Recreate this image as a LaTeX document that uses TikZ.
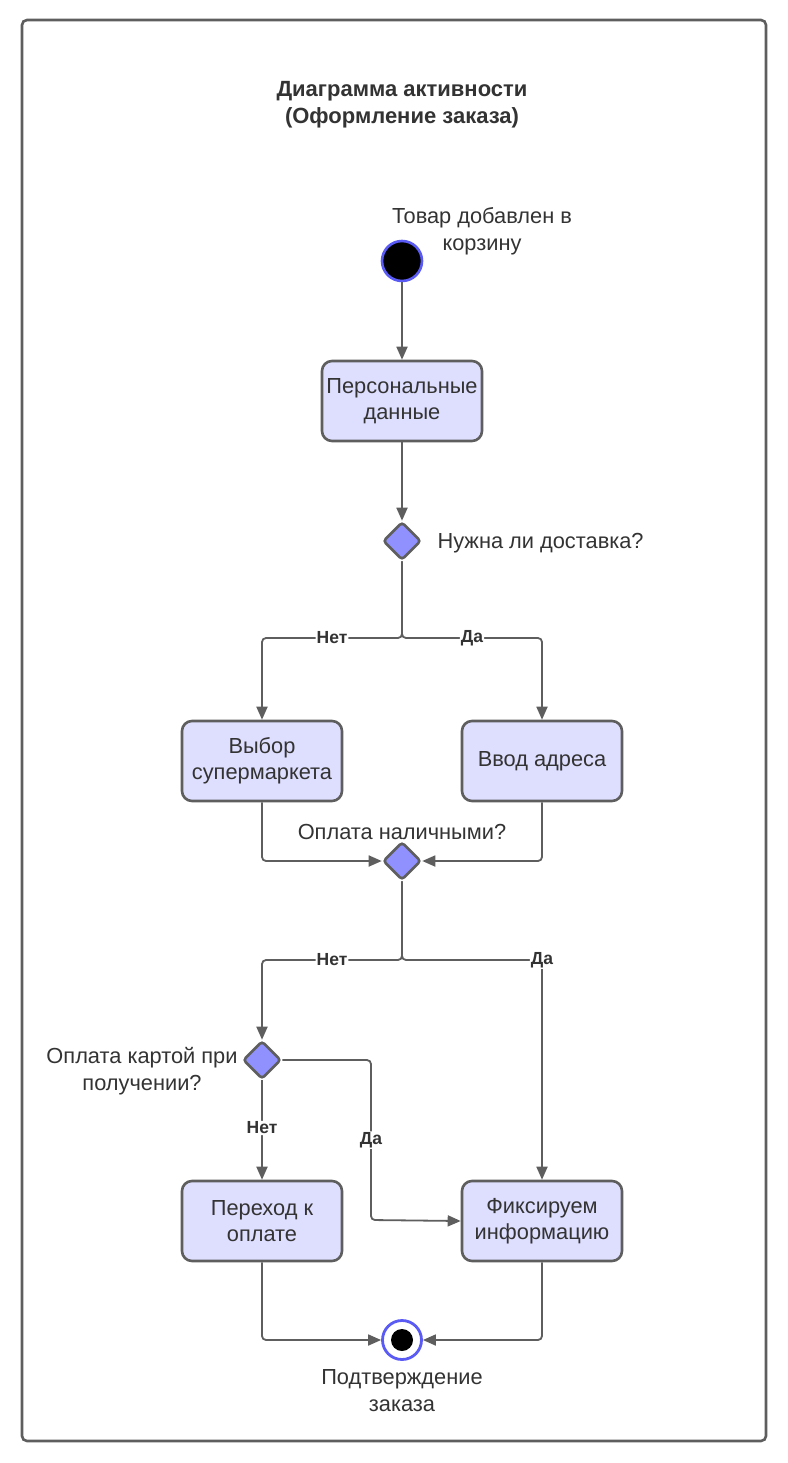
\documentclass[tikz,border=0pt]{standalone}
\usepackage{fontspec}
\setmainfont{Liberation Sans}
\usetikzlibrary{arrows.meta,shapes.geometric}
\definecolor{lgray}{HTML}{5E5E5E}
\definecolor{boxfill}{HTML}{DEDEFF}
\definecolor{decfill}{HTML}{9090FF}
\definecolor{ringblue}{HTML}{5A5AF5}
\definecolor{txt}{HTML}{333333}
\tikzset{
  act/.style={draw=lgray, line width=2.6pt, fill=boxfill, rounded corners=10pt,
    minimum width=160pt, minimum height=80pt, align=center, text=txt, inner sep=1pt,
    font=\fontsize{21.8}{26}\selectfont},
  dec/.style={diamond, draw=lgray, line width=2.6pt, fill=decfill,
    minimum width=38pt, minimum height=38pt, inner sep=0pt, rounded corners=3pt},
  conn/.style={draw=lgray, line width=1.8pt, -{Triangle[length=13pt,width=11pt]}, rounded corners=4pt},
  lbl/.style={font=\bfseries\fontsize{17.5}{20}\selectfont, text=txt, fill=white, inner sep=1pt},
  note/.style={font=\fontsize{21.8}{27}\selectfont, text=txt, align=center},
}
\begin{document}
\begin{tikzpicture}[x=1pt,y=-1pt]
\useasboundingbox (0,0) rectangle (787,1463);
\fill[white] (0,0) rectangle (787,1463);
\draw[lgray, line width=2.6pt, rounded corners=5pt] (22,20) rectangle (766,1441);

\node[font=\bfseries\fontsize{22}{27}\selectfont, text=txt, align=center] (title) at (402,105)
  {Диаграмма активности\\(Оформление заказа)};

\node[circle, fill=black, draw=ringblue, line width=2.6pt, minimum size=40pt, inner sep=0pt] (start) at (402,261) {};
\node[note] (startlbl) at (482,231) {Товар добавлен в\\корзину};

\node[act] (pd) at (402,401) {Персональные\\данные};
\node[dec] (d1) at (402,541) {};
\node[note, anchor=west] (d1lbl) at (434,543) {Нужна ли доставка?};

\node[act] (sm) at (262,761) {Выбор\\супермаркета};
\node[act] (va) at (542,761) {Ввод адреса};

\node[dec] (d2) at (402,861) {};
\node[note] (d2lbl) at (402,832) {Оплата наличными?};

\node[dec] (d3) at (262,1060) {};
\node[note] (d3lbl) at (142,1071) {Оплата картой при\\получении?};

\node[act] (pk) at (262,1221) {Переход к\\оплате};
\node[act] (fx) at (542,1221) {Фиксируем\\информацию};

\node[circle, fill=white, draw=ringblue, line width=2.8pt, minimum size=39pt, inner sep=0pt] (end) at (402,1340) {};
\node[circle, fill=black, minimum size=22pt, inner sep=0pt] (endin) at (402,1340) {};
\node[note] (endlbl) at (402,1391) {Подтверждение\\заказа};

\coordinate (j1) at (402,638);
\coordinate (j2) at (402,960);
\coordinate (c1) at (371,1220);

\draw[conn] (start) -- (pd);
\draw[conn] (pd) -- (d1);
\draw[conn] (d1.south) -- (j1) -| node[lbl,pos=0.25]{Нет} (sm.north);
\draw[conn] (d1.south) -- (j1) -| node[lbl,pos=0.25]{Да} (va.north);
\draw[conn] (sm.south) |- (d2.west);
\draw[conn] (va.south) |- (d2.east);
\draw[conn] (d2.south) -- (j2) -| node[lbl,pos=0.25]{Нет} (d3.north);
\draw[conn] (d2.south) -- (j2) -| node[lbl,pos=0.5]{Да} (fx.north);
\draw[conn] (d3.south) -- node[lbl,pos=0.48]{Нет} (pk.north);
\draw[conn] (d3.east) -| node[lbl,pos=0.75]{Да} (c1) -- (fx.west);
\draw[conn] (pk.south) |- (end.west);
\draw[conn] (fx.south) |- (end.east);
\end{tikzpicture}
\end{document}
